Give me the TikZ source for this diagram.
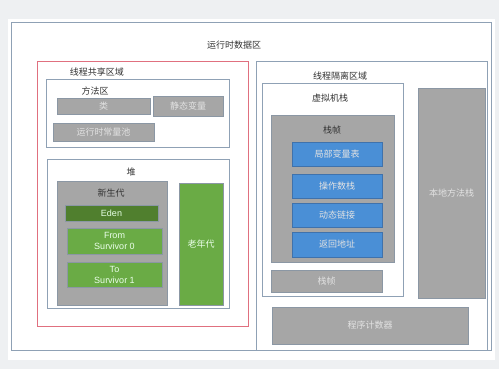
\documentclass[tikz,border=0pt]{standalone}
\usepackage{fontspec}
\setmainfont{Liberation Sans}
\newfontfamily\cjk{Noto Sans CJK SC}
\definecolor{bgc}{HTML}{EEF0F2}
\definecolor{framec}{HTML}{8FA1B5}
\definecolor{redc}{HTML}{E0707F}
\definecolor{grayf}{HTML}{A6A6A6}
\definecolor{grayb}{HTML}{8B97A4}
\definecolor{bluef}{HTML}{4A8FD6}
\definecolor{blueb}{HTML}{3F72AC}
\definecolor{greenf}{HTML}{6AAB45}
\definecolor{edenf}{HTML}{507F2E}
\definecolor{headc}{HTML}{333333}
\definecolor{lighttext}{HTML}{E2E2E2}
\newcommand\boxat[7]{\node[#2, minimum width={(#5-#3)*1pt}, minimum height={(#6-#4)*1pt}] (#1) at ({(#3+#5)/2},{(#4+#6)/2}) {#7};}
\tikzset{
  every node/.style={inner sep=0pt, outer sep=0pt, font=\fontsize{9}{11}\selectfont},
  region/.style={draw=framec, line width=0.7pt, fill=white},
  redregion/.style={draw=redc, line width=0.8pt, fill=white},
  graybox/.style={draw=grayb, line width=0.6pt, fill=grayf, text=lighttext, font=\fontsize{9}{11}\selectfont\cjk},
  bluebox/.style={draw=blueb, line width=0.6pt, fill=bluef, text=lighttext, font=\fontsize{9}{11}\selectfont\cjk},
  greenbox/.style={draw=grayb, line width=0.6pt, fill=greenf, text=white!92!green, align=center, font=\fontsize{9}{11}\selectfont},
  edenbox/.style={draw=grayb, line width=0.6pt, fill=edenf, text=white!90!green, font=\fontsize{9}{11}\selectfont},
  head/.style={text=headc, font=\fontsize{9}{11}\selectfont\cjk},
}
\begin{document}
\begin{tikzpicture}[x=1pt,y=-1pt]
\useasboundingbox (0,0) rectangle (499,369);
\fill[bgc] (0,0) rectangle (499,369);
\fill[white] (8,19) rectangle (495,360);
% outer
\boxat{outer}{region}{11}{22}{491}{350}{}
\node[head] (titleall) at (234,45) {运行时数据区};
% shared
\boxat{shared}{redregion}{37}{61}{248}{326}{}
\node[head] (sharedt) at (97,72) {线程共享区域};
\boxat{method}{region}{46}{79}{229}{147}{}
\node[head] (methodt) at (95,91) {方法区};
\boxat{cls}{graybox}{57}{98}{150}{114}{类}
\boxat{static}{graybox}{153}{96}{223}{116}{静态变量}
\boxat{pool}{graybox}{53}{123}{154}{141}{运行时常量池}
\boxat{heap}{region}{47}{159}{229}{308}{}
\node[head] (heapt) at (131,172) {堆};
\boxat{young}{graybox}{57}{181}{167}{305}{}
\node[head] (youngt) at (111,193) {新生代};
\boxat{eden}{edenbox}{65}{205}{158}{221}{Eden}
\boxat{from}{greenbox}{67}{228}{162}{254}{From\\Survivor 0}
\boxat{to}{greenbox}{67}{262}{162}{287}{To\\Survivor 1}
\boxat{old}{greenbox}{179}{183}{223}{305}{\cjk 老年代}
% isolated
\boxat{iso}{region}{256}{61}{487}{350}{}
\node[head] (isot) at (340,76) {线程隔离区域};
\boxat{vms}{region}{262}{83}{403}{296}{}
\node[head] (vmst) at (330,98) {虚拟机栈};
\boxat{frame}{graybox}{271}{115}{394}{262}{}
\node[head] (framet) at (332,130) {栈帧};
\boxat{locals}{bluebox}{292}{142}{382}{166}{局部变量表}
\boxat{opstack}{bluebox}{292}{174}{382}{198}{操作数栈}
\boxat{dynlink}{bluebox}{292}{203}{382}{227}{动态链接}
\boxat{retaddr}{bluebox}{292}{232}{382}{257}{返回地址}
\boxat{frame2}{graybox}{271}{270}{382}{292}{栈帧}
\boxat{native}{graybox}{418}{88}{485}{298}{本地方法栈}
\boxat{pc}{graybox}{272}{307}{468}{344}{程序计数器}
\end{tikzpicture}
\end{document}
